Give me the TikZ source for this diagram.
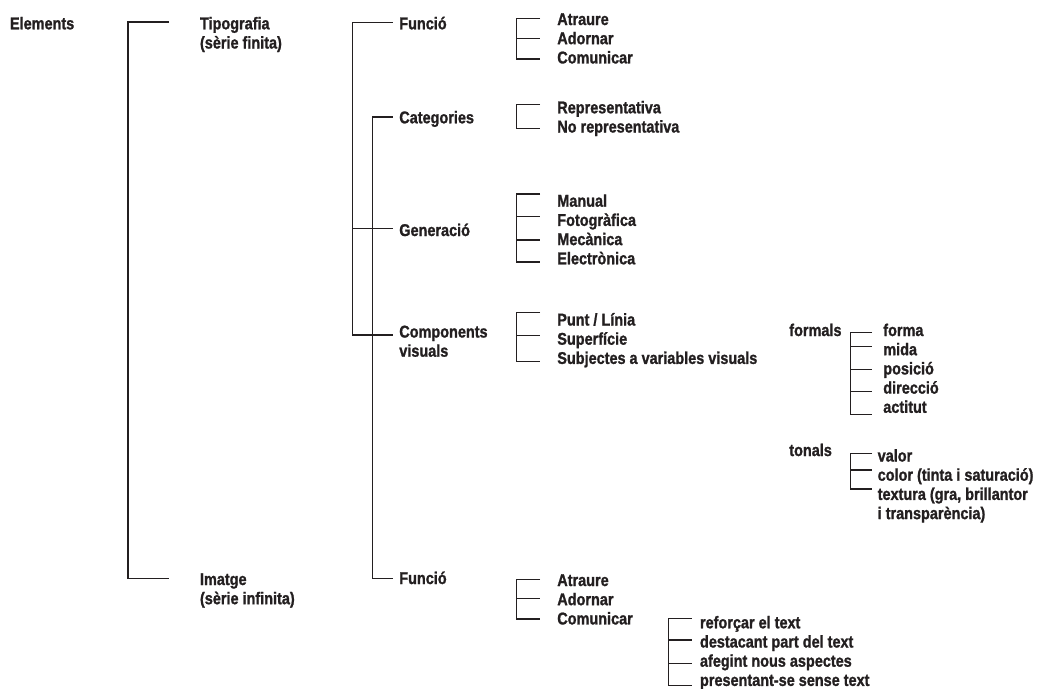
\documentclass[tikz,border=0pt]{standalone}
\usepackage{fontspec}
\setmainfont{Liberation Sans}[FakeStretch=0.85,BoldFeatures={FakeBold=1.2}]
\definecolor{ink}{HTML}{231F20}
% several lines of a label, first line on the node's base
\newcommand\rowsof[1]{\begin{tabular}[t]{@{}l@{}}#1\end{tabular}}
\begin{document}
\begin{tikzpicture}[x=1pt,y=-1pt,
  lbl/.style={anchor=base west, inner sep=0pt, outer sep=0pt,
    font=\fontsize{17}{19.2}\selectfont\bfseries, text=ink},
  brace/.style={draw=ink, line width=1.3pt, line join=miter}]
\fill[white] (0,0) rectangle (1040,688);
\useasboundingbox (0,0) rectangle (1040,688);

% ---- labels ----
\node[lbl] (elem) at (10,29.3) {Elements};
\node[lbl] (tipo) at (200,29.3) {\rowsof{Tipografia\\(sèrie finita)}};
\node[lbl] (imat) at (200,585) {\rowsof{Imatge\\(sèrie infinita)}};

\node[lbl] (funcT) at (399.3,29.3) {Funció};
\node[lbl] (categ) at (399.3,123.3) {Categories};
\node[lbl] (gener) at (399.3,236) {Generació};
\node[lbl] (compo) at (399.3,337.5) {\rowsof{Components\\visuals}};
\node[lbl] (funcI) at (399.3,584) {Funció};

\node[lbl] (funcTl) at (557.3,25) {\rowsof{Atraure\\Adornar\\Comunicar}};
\node[lbl] (categl) at (557.3,113.3) {\rowsof{Representativa\\No representativa}};
\node[lbl] (generl) at (557.3,206.7) {\rowsof{Manual\\Fotogràfica\\Mecànica\\Electrònica}};
\node[lbl] (compol) at (557.3,325.5) {\rowsof{Punt / Línia\\Superfície\\Subjectes a variables visuals}};

\node[lbl] (form) at (789.3,336) {formals};
\node[lbl] (forml) at (883.3,336) {\rowsof{forma\\mida\\posició\\direcció\\actitut}};
\node[lbl] (tona) at (789.3,456) {tonals};
\node[lbl] (tonal) at (877.7,461.5) {\rowsof{valor\\color (tinta i saturació)\\textura (gra, brillantor\\i transparència)}};

\node[lbl] (funcIl) at (557.3,586) {\rowsof{Atraure\\Adornar\\Comunicar}};
\node[lbl] (comul) at (700,628.3) {\rowsof{reforçar el text\\destacant part del text\\afegint nous aspectes\\presentant-se sense text}};

% ---- brackets ----
% Elements
\draw[brace] (169,22) -- (128,22) -- (128,578.3) -- (169,578.3);

% Tipografia
\draw[brace] (392.7,22.5) -- (352.7,22.5) -- (352.7,335) -- (392.7,335);
\draw[brace] (352.7,228.5) -- (392.7,228.5);
% Imatge
\draw[brace] (392.7,117) -- (372.7,117) -- (372.7,578.3) -- (392.7,578.3);

% Funció (tipografia)
\draw[brace] (540,18.5) -- (516.7,18.5) -- (516.7,59) -- (540,59);
\draw[brace] (516.7,38.5) -- (540,38.5);
% Categories
\draw[brace] (540,104.5) -- (516.7,104.5) -- (516.7,128.3) -- (540,128.3);
% Generació
\draw[brace] (540,194) -- (516.7,194) -- (516.7,262) -- (540,262);
\draw[brace] (516.7,216.7) -- (540,216.7);
\draw[brace] (516.7,240) -- (540,240);
% Components visuals
\draw[brace] (540,312.5) -- (516.7,312.5) -- (516.7,361.7) -- (540,361.7);
\draw[brace] (516.7,335.5) -- (540,335.5);

% formals
\draw[brace] (872,332.7) -- (850.7,332.7) -- (850.7,414.7) -- (872,414.7);
\draw[brace] (850.7,346.7) -- (872,346.7);
\draw[brace] (850.7,369.5) -- (872,369.5);
\draw[brace] (850.7,391.5) -- (872,391.5);
% tonals
\draw[brace] (872,453.5) -- (850.7,453.5) -- (850.7,489) -- (872,489);
\draw[brace] (850.7,470) -- (872,470);

% Funció (imatge)
\draw[brace] (540,579.5) -- (516.7,579.5) -- (516.7,619) -- (540,619);
\draw[brace] (516.7,598.7) -- (540,598.7);
% Comunicar
\draw[brace] (691.7,618.3) -- (668.3,618.3) -- (668.3,685.5) -- (691.7,685.5);
\draw[brace] (668.3,640) -- (691.7,640);
\draw[brace] (668.3,663.7) -- (691.7,663.7);
\end{tikzpicture}
\end{document}
